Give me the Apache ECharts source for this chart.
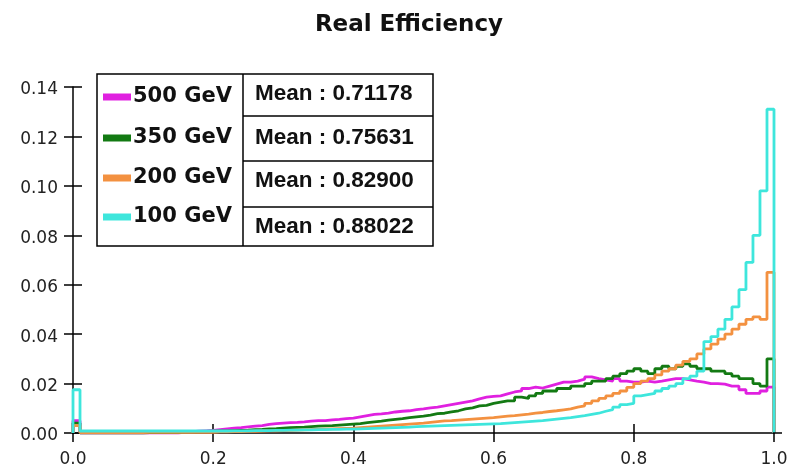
<!DOCTYPE html>
<html>
<head>
<meta charset="utf-8">
<script src="https://cdn.jsdelivr.net/npm/echarts@6/dist/echarts.min.js"></script>
<style>
html,body{margin:0;padding:0;background:#fff;}
#chart{width:791px;height:476px;}
</style>
</head>
<body>
<div id="chart"></div>
<script>
// ---- data (100 bins of width 0.01 over 0..1) ----
const seriesNames = ['500 GeV', '350 GeV', '200 GeV', '100 GeV'];
const meanLabels = ['Mean : 0.71178', 'Mean : 0.75631', 'Mean : 0.82900', 'Mean : 0.88022'];
const xTicks = [0.0, 0.2, 0.4, 0.6, 0.8, 1.0];
const yTicks = [0.00, 0.02, 0.04, 0.06, 0.08, 0.10, 0.12, 0.14];
const binWidth = 0.01;

const e500 = [
  0.005, 0.0001, 0.0001, 0.0001, 0.0001, 0.0001, 0.0001, 0.0001, 0.0001, 0.0001,
  0.0001, 0.0001, 0.0001, 0.0001, 0.0001, 0.0003, 0.0005, 0.0007, 0.0009, 0.0011,
  0.0014, 0.0017, 0.0020, 0.0022, 0.0025, 0.0028, 0.0030, 0.0035, 0.0038, 0.0040,
  0.0042, 0.0043, 0.0045, 0.0048, 0.0050, 0.0050, 0.0053, 0.0055, 0.0058, 0.0060,
  0.0065, 0.0070, 0.0075, 0.0077, 0.0080, 0.0085, 0.0088, 0.0090, 0.0095, 0.0098,
  0.0102, 0.0105, 0.0110, 0.0115, 0.0120, 0.0125, 0.0130, 0.0138, 0.0145, 0.0148,
  0.0150, 0.0158, 0.0166, 0.0170, 0.0180, 0.0186, 0.0182, 0.0190, 0.0198, 0.0206,
  0.0206, 0.0210, 0.0218, 0.0227, 0.0220, 0.0215, 0.0210, 0.0220, 0.0210, 0.0206,
  0.0206, 0.0210, 0.0206, 0.0210, 0.0215, 0.0220, 0.0220, 0.0215, 0.0210, 0.0206,
  0.0200, 0.0200, 0.0198, 0.0190, 0.0190, 0.0175, 0.0160, 0.0160, 0.0170, 0.0186
];
const e350 = [
  0.004, 0.0001, 0.0001, 0.0001, 0.0001, 0.0001, 0.0001, 0.0001, 0.0001, 0.0001,
  0.0002, 0.0002, 0.0002, 0.0002, 0.0002, 0.0003, 0.0004, 0.0005, 0.0006, 0.0007,
  0.0008, 0.0009, 0.0010, 0.0011, 0.0012, 0.0014, 0.0015, 0.0017, 0.0018, 0.0020,
  0.0022, 0.0023, 0.0024, 0.0026, 0.0028, 0.0029, 0.0030, 0.0032, 0.0034, 0.0036,
  0.0038, 0.0042, 0.0045, 0.0048, 0.0052, 0.0055, 0.0058, 0.0062, 0.0065, 0.0068,
  0.0072, 0.0078, 0.0080, 0.0085, 0.0090, 0.0098, 0.0102, 0.0110, 0.0112, 0.0120,
  0.0125, 0.0130, 0.0130, 0.0145, 0.0140, 0.0150, 0.0160, 0.0170, 0.0170, 0.0180,
  0.0180, 0.0190, 0.0190, 0.0200, 0.0210, 0.0210, 0.0220, 0.0230, 0.0240, 0.0250,
  0.0260, 0.0250, 0.0240, 0.0260, 0.0270, 0.0260, 0.0270, 0.0280, 0.0270, 0.0260,
  0.0260, 0.0250, 0.0250, 0.0240, 0.0230, 0.0220, 0.0220, 0.0200, 0.0190, 0.0300
];
const e200 = [
  0.003, 0.0002, 0.0002, 0.0002, 0.0002, 0.0002, 0.0002, 0.0002, 0.0002, 0.0002,
  0.0003, 0.0003, 0.0003, 0.0003, 0.0003, 0.0003, 0.0003, 0.0003, 0.0003, 0.0003,
  0.0005, 0.0005, 0.0006, 0.0006, 0.0007, 0.0007, 0.0008, 0.0009, 0.0009, 0.0010,
  0.0011, 0.0012, 0.0013, 0.0014, 0.0015, 0.0016, 0.0017, 0.0018, 0.0019, 0.0020,
  0.0022, 0.0024, 0.0026, 0.0028, 0.0030, 0.0032, 0.0034, 0.0036, 0.0038, 0.0040,
  0.0043, 0.0046, 0.0049, 0.0050, 0.0052, 0.0054, 0.0056, 0.0058, 0.0060, 0.0062,
  0.0065, 0.0068, 0.0070, 0.0073, 0.0076, 0.0080, 0.0083, 0.0087, 0.0090, 0.0094,
  0.0098, 0.0105, 0.0110, 0.0120, 0.0130, 0.0140, 0.0150, 0.0160, 0.0170, 0.0185,
  0.0200, 0.0210, 0.0220, 0.0235, 0.0250, 0.0260, 0.0275, 0.0290, 0.0300, 0.0320,
  0.0340, 0.0360, 0.0380, 0.0400, 0.0420, 0.0440, 0.0460, 0.0470, 0.0460, 0.0650
];
const e100 = [
  0.0175, 0.0008, 0.0008, 0.0008, 0.0008, 0.0008, 0.0008, 0.0008, 0.0008, 0.0008,
  0.0008, 0.0008, 0.0008, 0.0008, 0.0008, 0.0008, 0.0008, 0.0008, 0.0008, 0.0008,
  0.0008, 0.0008, 0.0009, 0.0009, 0.0009, 0.0010, 0.0010, 0.0010, 0.0011, 0.0011,
  0.0012, 0.0012, 0.0013, 0.0013, 0.0014, 0.0014, 0.0015, 0.0015, 0.0016, 0.0016,
  0.0017, 0.0018, 0.0019, 0.0020, 0.0021, 0.0022, 0.0023, 0.0024, 0.0026, 0.0027,
  0.0028, 0.0029, 0.0030, 0.0031, 0.0032, 0.0033, 0.0034, 0.0035, 0.0036, 0.0037,
  0.0038, 0.0040, 0.0042, 0.0044, 0.0046, 0.0048, 0.0050, 0.0053, 0.0056, 0.0059,
  0.0062, 0.0066, 0.0070, 0.0075, 0.0080, 0.0088, 0.0095, 0.0105, 0.0115, 0.0120,
  0.0150, 0.0155, 0.0160, 0.0170, 0.0180, 0.0190, 0.0200, 0.0220, 0.0230, 0.0250,
  0.0370, 0.0390, 0.0420, 0.0460, 0.0510, 0.0580, 0.0690, 0.0800, 0.0980, 0.1310
];

const seriesValues = [e500, e350, e200, e100];
const seriesColors = ['#e020e0', '#137a13', '#f39140', '#3ee6dc'];

function toSteps(vals) {
  const pts = [[0, 0]];
  vals.forEach(function (v, i) { pts.push([+(i * binWidth).toFixed(2), v]); });
  const last = vals[vals.length - 1];
  pts.push([1, last]);
  pts.push([1, 0]);
  return pts;
}

const chart = echarts.init(document.getElementById('chart'), null, {renderer: 'canvas'});

const axisFont = {fontFamily: 'DejaVu Sans', fontSize: 17, color: '#222'};

const legendGraphics = [
  {type: 'rect', shape: {x: 97, y: 74, width: 336, height: 172},
   style: {fill: '#fff', stroke: '#000', lineWidth: 1.5}, z: 100},
  {type: 'line', shape: {x1: 243, y1: 74, x2: 243, y2: 246},
   style: {stroke: '#000', lineWidth: 1.5}, z: 101},
  {type: 'line', shape: {x1: 773, y1: 433, x2: 782, y2: 433},
   style: {stroke: '#000', lineWidth: 1.5}, z: 50}
];
[116, 161, 207].forEach(function (y) {
  legendGraphics.push({type: 'line', shape: {x1: 243, y1: y, x2: 433, y2: y},
    style: {stroke: '#000', lineWidth: 1.5}, z: 101});
});
const nameY = [97, 138, 178, 217];
const meanY = [94, 138, 181, 227];
seriesNames.forEach(function (n, i) {
  legendGraphics.push({type: 'rect', shape: {x: 103, y: nameY[i] - 3.5, width: 28, height: 7},
    style: {fill: seriesColors[i]}, z: 102});
  legendGraphics.push({type: 'text', x: 133, y: nameY[i], z: 102,
    style: {text: n, fill: '#111', font: 'bold 21px "DejaVu Sans"',
            align: 'left', verticalAlign: 'middle', textAlign: 'left', textVerticalAlign: 'middle'}});
  legendGraphics.push({type: 'text', x: 255, y: meanY[i], z: 102,
    style: {text: meanLabels[i], fill: '#111', font: 'bold 22.5px "Liberation Sans"',
            align: 'left', verticalAlign: 'middle', textAlign: 'left', textVerticalAlign: 'middle'}});
});

const baseX = {
  type: 'value', min: xTicks[0], max: xTicks[xTicks.length - 1], interval: 0.2,
  gridIndex: 0, splitLine: {show: false}
};
const baseY = {
  type: 'value', min: yTicks[0], max: yTicks[yTicks.length - 1], interval: 0.02,
  gridIndex: 0, splitLine: {show: false}
};

chart.setOption({
  animation: false,
  backgroundColor: '#fff',
  title: {
    text: 'Real Efficiency', left: 404, top: 9, textAlign: 'center',
    textStyle: {fontFamily: 'DejaVu Sans', fontWeight: 'bold', fontSize: 23, color: '#111'}
  },
  grid: {left: 73, right: 17, top: 87, bottom: 43, containLabel: false},
  xAxis: [
    Object.assign({}, baseX, {
      position: 'bottom',
      axisLine: {show: true, lineStyle: {color: '#000', width: 1.5}},
      axisTick: {show: true, inside: false, length: 9, lineStyle: {color: '#000', width: 1.5}},
      axisLabel: Object.assign({margin: 18, formatter: function (v) { return v.toFixed(1); }}, axisFont)
    }),
    Object.assign({}, baseX, {
      position: 'bottom',
      axisLine: {show: false},
      axisTick: {show: true, inside: true, length: 9, lineStyle: {color: '#000', width: 1.5}},
      axisLabel: {show: false}
    })
  ],
  yAxis: [
    Object.assign({}, baseY, {
      position: 'left',
      axisLine: {show: true, lineStyle: {color: '#000', width: 1.5}},
      axisTick: {show: true, inside: false, length: 9, lineStyle: {color: '#000', width: 1.5}},
      axisLabel: Object.assign({
        margin: 15,
        formatter: function (v) { return '{t|' + v.toFixed(2) + '}'; },
        rich: {t: {fontFamily: 'DejaVu Sans', fontSize: 17, color: '#222', padding: [6, 0, 0, 0]}}
      }, axisFont)
    }),
    Object.assign({}, baseY, {
      position: 'left',
      axisLine: {show: false},
      axisTick: {show: true, inside: true, length: 9, lineStyle: {color: '#000', width: 1.5}},
      axisLabel: {show: false}
    })
  ],
  series: seriesNames.map(function (n, i) {
    return {
      name: n, type: 'line', step: 'end', xAxisIndex: 0, yAxisIndex: 0,
      showSymbol: false, symbol: 'none', clip: false,
      lineStyle: {color: seriesColors[i], width: 2.8},
      itemStyle: {color: seriesColors[i]},
      data: toSteps(seriesValues[i]),
      z: 2 + i
    };
  }),
  graphic: legendGraphics
});
</script>
</body>
</html>
